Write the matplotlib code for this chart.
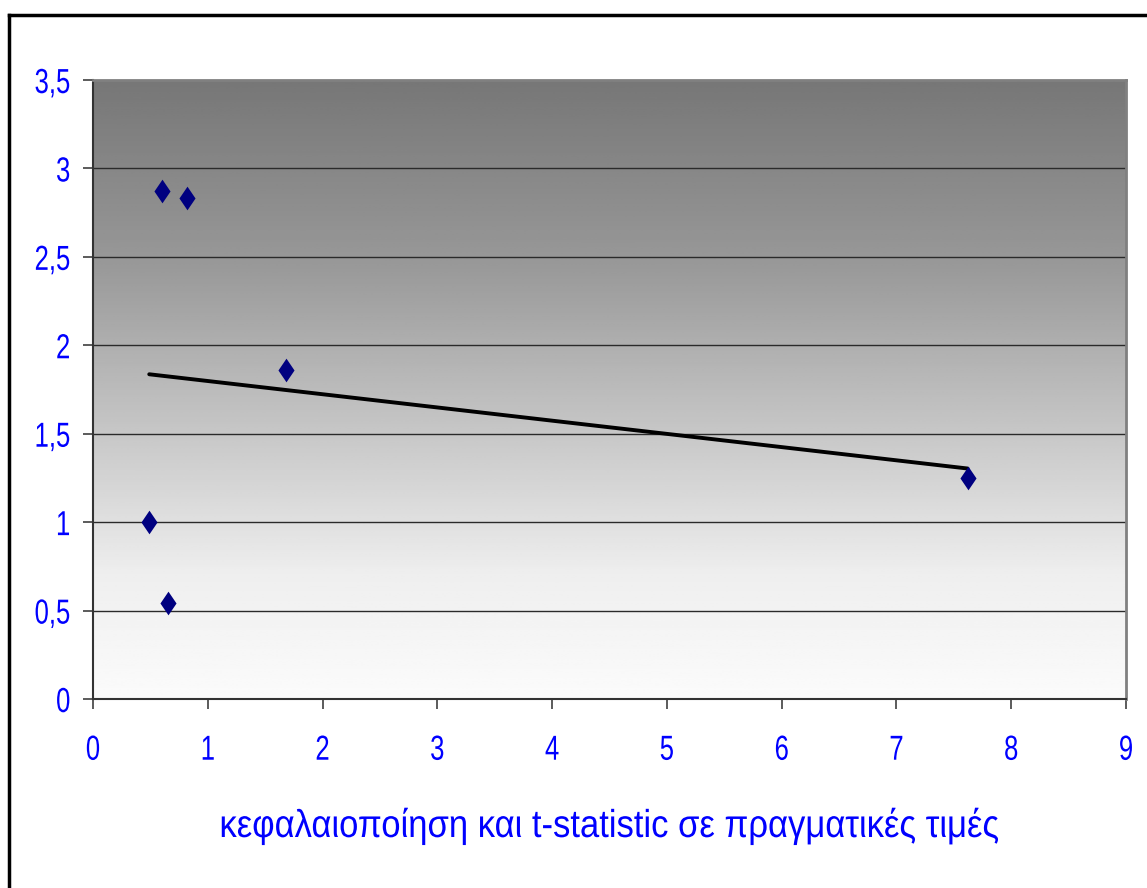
import numpy as np
import matplotlib
matplotlib.use("Agg")
import matplotlib.pyplot as plt
from matplotlib.lines import Line2D
from matplotlib.ticker import FuncFormatter
from matplotlib.patheffects import AbstractPathEffect
from matplotlib.transforms import Affine2D

# Observations: capitalisation / t-statistic (x) against value (y)
x_vals = [0.49, 0.60, 0.65, 0.82, 1.68, 7.62]
y_vals = [1.00, 2.87, 0.54, 2.83, 1.86, 1.25]

x_ticks = [0, 1, 2, 3, 4, 5, 6, 7, 8, 9]
y_ticks = [0, 0.5, 1, 1.5, 2, 2.5, 3, 3.5]
x_label = "κεφαλαιοποίηση και t-statistic σε πραγματικές τιμές"

plt.rcParams["font.family"] = ["Liberation Sans", "DejaVu Sans"]


class HSquash(AbstractPathEffect):
    """Draw text narrower than the font, squeezed about its centre or right edge."""

    def __init__(self, sx, anchor="center"):
        super().__init__()
        self.sx = sx
        self.anchor = anchor

    def draw_path(self, renderer, gc, tpath, affine, rgbFace=None):
        ext = tpath.get_extents(affine)
        cx = ext.x1 if self.anchor == "right" else 0.5 * (ext.x0 + ext.x1)
        squash = Affine2D().translate(-cx, 0).scale(self.sx, 1).translate(cx, 0)
        renderer.draw_path(gc, tpath, affine + squash, rgbFace)


W, H = 1147, 888
fig = plt.figure(figsize=(W / 100, H / 100), dpi=100)
ax = fig.add_axes([93 / W, 1 - 699 / H, (1126 - 93) / W, (699 - 80) / H])

# grey-to-white vertical gradient for the plot area (top row is darkest)
stops = np.array([0.0, 0.3, 0.6, 0.8, 1.0])
shade = np.array([0.465, 0.60, 0.80, 0.935, 0.985])
grad = np.interp(np.linspace(0, 1, 256), stops, shade)[:, None]
ax.imshow(np.repeat(grad, 2, axis=1), cmap="gray", vmin=0, vmax=1,
          extent=[0, 9, 0, 3.5], origin="upper", aspect="auto", zorder=0)

for yv in y_ticks[1:-1]:
    ax.axhline(yv, color="#2a2a2a", lw=1.0, zorder=1)

# linear trend line over the data range
slope, icpt = np.polyfit(x_vals, y_vals, 1)
tx = np.array([min(x_vals), max(x_vals)])
ax.plot(tx, slope * tx + icpt, color="black", lw=2.8, zorder=2, solid_capstyle="round")

diamond = [(0, 1), (0.68, 0), (0, -1), (-0.68, 0), (0, 1)]
ax.scatter(x_vals, y_vals, marker=diamond, s=290, color="#000080", zorder=3, linewidths=0)

ax.set_xlim(0, 9)
ax.set_ylim(0, 3.5)
ax.set_xticks(x_ticks)
ax.set_yticks(y_ticks)
ax.yaxis.set_major_formatter(FuncFormatter(lambda v, p: f"{v:g}".replace(".", ",")))
ax.tick_params(axis="both", direction="out", length=7, width=1.2, color="#404040",
               labelcolor="#0000ff", labelsize=25)
ax.tick_params(axis="y", pad=9)
ax.tick_params(axis="x", pad=18)
for lbl in ax.get_yticklabels():
    lbl.set_path_effects([HSquash(0.74, "right")])
for lbl in ax.get_xticklabels():
    lbl.set_path_effects([HSquash(0.74)])

for side in ["left", "bottom"]:
    ax.spines[side].set_color("#333333")
    ax.spines[side].set_linewidth(1.5)
for side in ["top", "right"]:
    ax.spines[side].set_color("#808080")
    ax.spines[side].set_linewidth(2)

xl = fig.text(609 / W, 1 - 826 / H, x_label, ha="center", va="center",
              color="#0000ff", fontsize=28)
xl.set_path_effects([HSquash(0.89)])

# chart frame: only the top and left edges fall inside the image
fig.add_artist(Line2D([9 / W, 9 / W], [0, 1 - 15 / H], color="black", lw=2.5,
                      transform=fig.transFigure))
fig.add_artist(Line2D([9 / W, 1], [1 - 15 / H, 1 - 15 / H], color="black", lw=2.5,
                      transform=fig.transFigure))

fig.savefig("out.png", dpi=100)
